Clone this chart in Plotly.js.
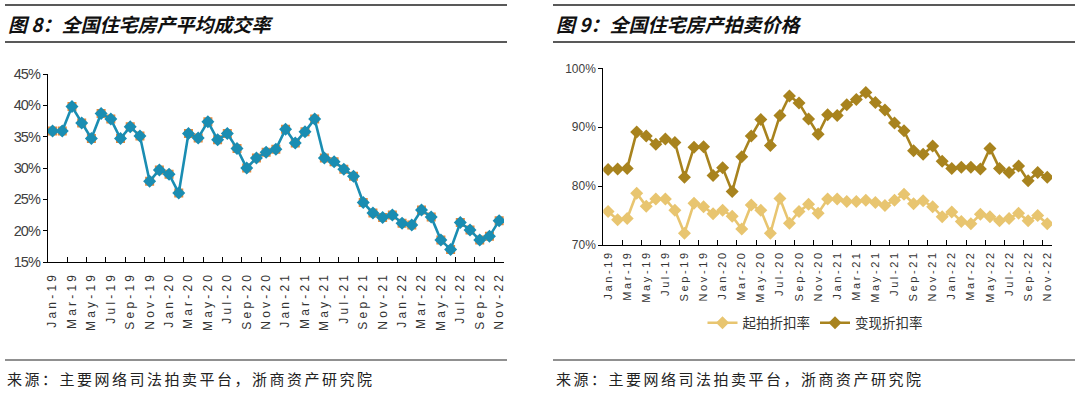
<!DOCTYPE html>
<html>
<head>
<meta charset="utf-8">
<script src="https://cdn.plot.ly/plotly-3.0.1.min.js"></script>
<style>
html,body{margin:0;padding:0;background:#fff;}
#chart{width:1080px;height:393px;}
.xtick text{letter-spacing:3.2px;}
.x2tick text{letter-spacing:2.6px;}
.ytick text{letter-spacing:-1px;}
</style>
</head>
<body>
<div id="chart"></div>
<script>
// Category months (Jan-19 .. Nov-22)
const months = [
  "Jan-19","Feb-19","Mar-19","Apr-19","May-19","Jun-19","Jul-19","Aug-19","Sep-19","Oct-19","Nov-19","Dec-19",
  "Jan-20","Feb-20","Mar-20","Apr-20","May-20","Jun-20","Jul-20","Aug-20","Sep-20","Oct-20","Nov-20","Dec-20",
  "Jan-21","Feb-21","Mar-21","Apr-21","May-21","Jun-21","Jul-21","Aug-21","Sep-21","Oct-21","Nov-21","Dec-21",
  "Jan-22","Feb-22","Mar-22","Apr-22","May-22","Jun-22","Jul-22","Aug-22","Sep-22","Oct-22","Nov-22"
];
// Tick labels shown (every other month)
const tickLabels = [
  "Jan-19","Mar-19","May-19","Jul-19","Sep-19","Nov-19",
  "Jan-20","Mar-20","May-20","Jul-20","Sep-20","Nov-20",
  "Jan-21","Mar-21","May-21","Jul-21","Sep-21","Nov-21",
  "Jan-22","Mar-22","May-22","Jul-22","Sep-22","Nov-22"
];
// 图8: 全国住宅房产平均成交率 (%)
const dealRate = [
  35.9, 35.9, 39.8, 37.2, 34.7, 38.7, 37.8, 34.7, 36.6, 35.1, 27.9, 29.7,
  29.0, 26.0, 35.5, 34.8, 37.4, 34.5, 35.5, 33.1, 30.0, 31.6, 32.5, 33.0,
  36.2, 34.0, 35.8, 37.8, 31.6, 31.0, 29.8, 28.7, 24.5, 22.8, 22.1, 22.5,
  21.2, 20.9, 23.3, 22.2, 18.5, 17.0, 21.3, 20.1, 18.5, 19.1, 21.6
];
// 图9: 起拍折扣率 (%)
const startDiscount = [
  75.7, 74.3, 74.5, 78.8, 76.6, 77.8, 77.8, 75.9, 72.0, 77.1, 76.5, 75.3,
  75.9, 74.9, 72.7, 76.8, 75.9, 72.0, 77.9, 73.7, 75.7, 76.9, 75.4, 77.8,
  77.8, 77.4, 77.4, 77.6, 77.2, 76.7, 77.6, 78.6, 77.0, 77.5, 76.5, 74.8,
  75.6, 74.0, 73.6, 75.2, 74.8, 74.1, 74.5, 75.4, 74.1, 75.0, 73.6
];
// 图9: 变现折扣率 (%)
const realizeDiscount = [
  82.8, 82.9, 83.0, 89.2, 88.5, 87.1, 88.0, 87.4, 81.5, 86.6, 86.7, 81.8,
  83.1, 79.1, 85.0, 88.5, 91.3, 86.9, 92.0, 95.3, 94.1, 91.4, 88.8, 92.1,
  92.0, 93.8, 94.7, 95.9, 94.2, 92.9, 90.7, 89.4, 86.0, 85.4, 86.8, 84.2,
  83.0, 83.2, 83.2, 82.9, 86.4, 83.0, 82.3, 83.4, 80.9, 82.3, 81.5
];
const seriesNames = ["起拍折扣率", "变现折扣率"];

const teal = "#1a8db2", orange = "#e8883a";
const gold1 = "#e8c570", gold2 = "#a8831e";

const traces = [
  {x: months, y: dealRate, type: "scatter", mode: "markers", xaxis: "x", yaxis: "y",
   marker: {symbol: "square", size: 9, color: orange}, showlegend: false, hoverinfo: "skip"},
  {x: months, y: dealRate, type: "scatter", mode: "lines+markers", xaxis: "x", yaxis: "y",
   line: {color: teal, width: 2.6}, marker: {symbol: "diamond", size: 10, color: teal},
   showlegend: false},
  {x: months, y: startDiscount, name: seriesNames[0], type: "scatter", mode: "lines+markers",
   xaxis: "x2", yaxis: "y2", line: {color: gold1, width: 2.6},
   marker: {symbol: "diamond", size: 10, color: gold1}},
  {x: months, y: realizeDiscount, name: seriesNames[1], type: "scatter", mode: "lines+markers",
   xaxis: "x2", yaxis: "y2", line: {color: gold2, width: 2.6},
   marker: {symbol: "diamond", size: 10, color: gold2}}
];

const W = 1080, H = 393;
const px = v => v / W, py = v => 1 - v / H;

const xCommon = {
  type: "category", range: [-0.5, months.length - 0.5],
  tickmode: "array", tickvals: tickLabels, ticktext: tickLabels,
  tickson: "boundaries", ticks: "inside", ticklen: 5, tickcolor: "#000", tickwidth: 1,
  showline: true, linecolor: "#000", linewidth: 1, showgrid: false, zeroline: false,
  tickangle: -90, fixedrange: true
};
const yCommon = {
  ticks: "outside", ticklen: 4, tickcolor: "#000", tickwidth: 1,
  showline: true, linecolor: "#000", linewidth: 1, showgrid: false, zeroline: false,
  ticksuffix: "%", fixedrange: true
};

const layout = {
  width: W, height: H,
  margin: {l: 0, r: 0, t: 0, b: 0},
  paper_bgcolor: "#fff", plot_bgcolor: "#fff",
  font: {family: "Liberation Sans, Arial, sans-serif", color: "#333"},
  hovermode: false,
  xaxis: Object.assign({}, xCommon, {domain: [px(47.7), px(504)], anchor: "y",
    ticklabelstandoff: 4,
    tickfont: {size: 12, color: "#333", family: "Liberation Sans, Arial, sans-serif"}}),
  yaxis: Object.assign({}, yCommon, {domain: [py(262), py(74)], anchor: "x",
    range: [15, 45], dtick: 5, tick0: 15,
    tickfont: {size: 14.5, color: "#404040", family: "Liberation Sans Narrow, Liberation Sans, Arial Narrow, sans-serif"}}),
  xaxis2: Object.assign({}, xCommon, {domain: [px(603.3), px(1052)], anchor: "y2",
    tickfont: {size: 11, color: "#333", family: "Liberation Sans, Arial, sans-serif"}}),
  yaxis2: Object.assign({}, yCommon, {domain: [py(245), py(68.3)], anchor: "x2",
    range: [70, 100], dtick: 10, tick0: 70,
    tickfont: {size: 12, color: "#404040", family: "Liberation Sans, Arial, sans-serif"}}),
  legend: {orientation: "h", x: px(815), xanchor: "center", y: py(323), yanchor: "middle",
    font: {size: 13.5, color: "#333", family: "Noto Sans CJK SC, sans-serif"},
    itemwidth: 30, bgcolor: "rgba(0,0,0,0)", tracegroupgap: 0},
  shapes: [
    {type: "line", xref: "paper", yref: "paper", x0: px(5), x1: px(507), y0: py(5), y1: py(5), line: {color: "#222", width: 1.5}},
    {type: "line", xref: "paper", yref: "paper", x0: px(5), x1: px(507), y0: py(42), y1: py(42), line: {color: "#222", width: 1.5}},
    {type: "line", xref: "paper", yref: "paper", x0: px(5), x1: px(507), y0: py(360), y1: py(360), line: {color: "#222", width: 1.2}},
    {type: "line", xref: "paper", yref: "paper", x0: px(553), x1: px(1075), y0: py(5), y1: py(5), line: {color: "#222", width: 1.5}},
    {type: "line", xref: "paper", yref: "paper", x0: px(553), x1: px(1075), y0: py(42), y1: py(42), line: {color: "#222", width: 1.5}},
    {type: "line", xref: "paper", yref: "paper", x0: px(553), x1: px(1075), y0: py(360), y1: py(360), line: {color: "#222", width: 1.2}}
  ],
  annotations: [
    {xref: "paper", yref: "paper", x: px(6), y: py(23), xanchor: "left", yanchor: "middle", showarrow: false,
     text: "<b><i>图 8：全国住宅房产平均成交率</i></b>", font: {size: 19, color: "#111", family: "Noto Sans CJK SC, sans-serif"}},
    {xref: "paper", yref: "paper", x: px(554), y: py(23), xanchor: "left", yanchor: "middle", showarrow: false,
     text: "<b><i>图 9：全国住宅房产拍卖价格</i></b>", font: {size: 19, color: "#111", family: "Noto Sans CJK SC, sans-serif"}},
    {xref: "paper", yref: "paper", x: px(5), y: py(378), xanchor: "left", yanchor: "middle", showarrow: false,
     text: "<span style=\"letter-spacing:2.5px\">来源：主要网络司法拍卖平台，浙商资产研究院</span>", font: {size: 15, color: "#222", family: "Noto Sans CJK SC, sans-serif"}},
    {xref: "paper", yref: "paper", x: px(554), y: py(378), xanchor: "left", yanchor: "middle", showarrow: false,
     text: "<span style=\"letter-spacing:2.5px\">来源：主要网络司法拍卖平台，浙商资产研究院</span>", font: {size: 15, color: "#222", family: "Noto Sans CJK SC, sans-serif"}}
  ]
};

Plotly.newPlot("chart", traces, layout, {displayModeBar: false, staticPlot: true});
</script>
</body>
</html>
